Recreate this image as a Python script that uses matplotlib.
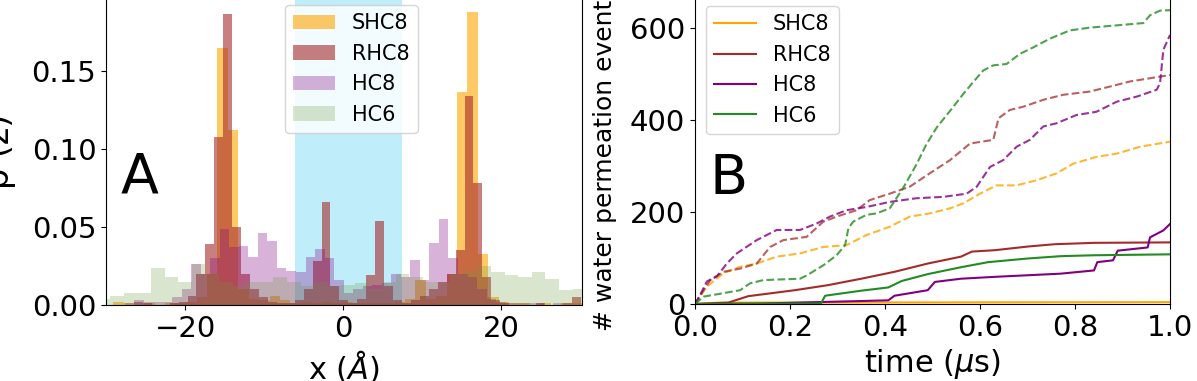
import numpy as np
import matplotlib.pyplot as plt

# ---- panel A: position histograms, p(z) per bin ----
shc8_bins = np.linspace(-29.07, 30.2, 46)
shc8_p = [0.002, 0.001, 0.000, 0.001, 0.000, 0.001, 0.001, 0.002, 0.005, 0.020,
          0.165, 0.112, 0.010, 0.004, 0.003, 0.006, 0.003, 0.001, 0.002, 0.001,
          0.002, 0.001, 0.002, 0.001, 0.001, 0.001, 0.001, 0.002, 0.004, 0.016,
          0.004, 0.006, 0.020, 0.137, 0.188, 0.033, 0.005, 0.002, 0.001, 0.001,
          0.000, 0.001, 0.000, 0.001, 0.001]

rhc8_bins = np.linspace(-29.86, 30.03, 54)
rhc8_p = [0.000, 0.000, 0.000, 0.002, 0.001, 0.000, 0.000, 0.001, 0.002, 0.006,
          0.020, 0.039, 0.108, 0.187, 0.050, 0.020, 0.010, 0.005, 0.002, 0.001,
          0.001, 0.003, 0.010, 0.028, 0.066, 0.012, 0.003, 0.001, 0.004, 0.019,
          0.054, 0.012, 0.003, 0.001, 0.003, 0.006, 0.010, 0.015, 0.020, 0.035,
          0.134, 0.078, 0.018, 0.003, 0.001, 0.000, 0.000, 0.000, 0.001, 0.000,
          0.000, 0.001, 0.005]

hc8_bins = np.linspace(-30.07, 30.18, 51)
hc8_p = [0.000, 0.000, 0.001, 0.003, 0.002, 0.002, 0.002, 0.005, 0.010, 0.026,
         0.020, 0.030, 0.049, 0.037, 0.038, 0.031, 0.046, 0.041, 0.024, 0.022,
         0.021, 0.031, 0.036, 0.030, 0.016, 0.008, 0.010, 0.012, 0.013, 0.014,
         0.020, 0.018, 0.029, 0.016, 0.040, 0.055, 0.030, 0.020, 0.018, 0.010,
         0.004, 0.002, 0.001, 0.001, 0.001, 0.001, 0.000, 0.001, 0.000, 0.000]

hc6_bins = np.linspace(-31.18, 30.74, 37)
hc6_p = [0.004, 0.006, 0.008, 0.008, 0.024, 0.018, 0.015, 0.026, 0.020, 0.015,
         0.012, 0.015, 0.015, 0.018, 0.015, 0.012, 0.015, 0.012, 0.013, 0.014,
         0.010, 0.015, 0.020, 0.018, 0.015, 0.015, 0.020, 0.022, 0.025, 0.021,
         0.019, 0.018, 0.021, 0.017, 0.0096, 0.010]

# ---- panel B: cumulative water permeation events ----
t_shc8_d = [0, 0.025, 0.06, 0.095, 0.13, 0.172, 0.221, 0.27, 0.319, 0.361, 0.41, 0.452,
            0.494, 0.537, 0.565, 0.6, 0.635, 0.677, 0.719, 0.761, 0.796, 0.845, 0.888, 0.937, 1.0]
n_shc8_d = [0, 38, 67, 81, 88, 103, 110, 124, 128, 150, 168, 190,
            197, 208, 219, 240, 258, 258, 269, 284, 305, 320, 327, 342, 353]

t_rhc8_d = [0, 0.018, 0.032, 0.06, 0.095, 0.13, 0.158, 0.186, 0.235, 0.27, 0.298, 0.34, 0.368,
            0.41, 0.452, 0.494, 0.537, 0.579, 0.628, 0.639, 0.663, 0.691, 0.733, 0.775, 0.831,
            0.874, 0.916, 0.958, 1.0]
n_rhc8_d = [0, 30, 52, 70, 77, 88, 124, 139, 146, 179, 190, 204, 226,
            240, 255, 284, 313, 349, 357, 404, 422, 429, 444, 455, 462,
            473, 484, 491, 498]

t_hc8_d = [0, 0.011, 0.025, 0.046, 0.067, 0.088, 0.13, 0.172, 0.221, 0.256, 0.284, 0.319, 0.361,
           0.41, 0.466, 0.523, 0.572, 0.593, 0.621, 0.649, 0.677, 0.705, 0.733, 0.761, 0.803,
           0.845, 0.888, 0.93, 0.972, 0.979, 0.986, 1.0]
n_hc8_d = [0, 20, 49, 60, 88, 110, 139, 161, 161, 175, 190, 204, 211,
           222, 230, 233, 240, 255, 298, 313, 342, 357, 386, 393, 411,
           418, 440, 451, 466, 480, 553, 585]

t_hc6_d = [0, 0.018, 0.095, 0.116, 0.144, 0.221, 0.235, 0.27, 0.298, 0.316, 0.323, 0.333,
           0.361, 0.382, 0.41, 0.438, 0.466, 0.487, 0.509, 0.537, 0.565, 0.586, 0.607, 0.628,
           0.656, 0.684, 0.712, 0.747, 0.789, 0.831, 0.888, 0.944, 0.958, 0.979, 1.0]
n_hc6_d = [0, 16, 30, 45, 52, 55, 62, 84, 106, 128, 165, 179,
           194, 197, 208, 252, 303, 347, 384, 420, 457, 483, 508, 519,
           522, 544, 558, 577, 595, 601, 606, 611, 628, 638, 639]

t_shc8 = [0, 0.05, 1.0]
n_shc8 = [0, 3, 4]

t_rhc8 = [0, 0.07, 0.091, 0.112, 0.21, 0.28, 0.35, 0.42, 0.49, 0.56, 0.583, 0.631, 0.701, 0.757, 0.84, 1.0]
n_rhc8 = [0, 3, 10, 17, 30, 41, 55, 70, 88, 103, 114, 117, 125, 130, 133, 134]

t_hc8 = [0, 0.14, 0.407, 0.42, 0.49, 0.505, 0.56, 0.63, 0.77, 0.84, 0.847, 0.88, 0.89, 0.953,
         0.958, 0.986, 1.0]
n_hc8 = [0, 1, 8, 18, 30, 48, 55, 59, 66, 73, 91, 95, 116, 123, 145, 160, 174]

t_hc6 = [0, 0.265, 0.274, 0.35, 0.407, 0.435, 0.49, 0.56, 0.617, 0.701, 0.77, 0.84, 1.0]
n_hc6 = [0, 1, 18, 29, 36, 50, 65, 80, 91, 99, 104, 106, 108]

plt.rcParams['font.size'] = 21

fig = plt.figure(figsize=(11.97, 3.81), dpi=100)
ax1 = fig.add_axes([106 / 1197, 76 / 381, 476 / 1197, 307 / 381])
ax2 = fig.add_axes([695 / 1197, 77 / 381, 475 / 1197, 309 / 381])

# panel A
ax1.axvspan(-6.1, 7.4, color='#bfeefa', lw=0, zorder=0)
ax1.hist(shc8_bins[:-1], bins=shc8_bins, weights=shc8_p, color='orange', alpha=0.6, label='SHC8')
ax1.hist(rhc8_bins[:-1], bins=rhc8_bins, weights=rhc8_p, color='brown', alpha=0.6, label='RHC8')
ax1.hist(hc8_bins[:-1], bins=hc8_bins, weights=hc8_p, color='purple', alpha=0.3, label='HC8')
ax1.hist(hc6_bins[:-1], bins=hc6_bins, weights=hc6_p, color='#6b9a3a', alpha=0.25, label='HC6')
ax1.set_xlim(-30, 30.2)
ax1.set_ylim(0, 0.197)
ax1.set_xticks([-20, 0, 20])
ax1.set_yticks([0, 0.05, 0.10, 0.15])
ax1.set_xlabel(r'x ($\AA$)', fontsize=22)
ax1.set_ylabel('p (z)', fontsize=24)
ax1.yaxis.set_label_coords(-0.19, 0.5)
ax1.text(-28.2, 0.072, 'A', fontsize=40)
ax1.legend(fontsize=15, loc='upper left', bbox_to_anchor=(0.376, 0.977), borderaxespad=0)

# panel B
ax2.plot(t_shc8_d, n_shc8_d, '--', color='orange', alpha=0.8, lw=1.5)
ax2.plot(t_rhc8_d, n_rhc8_d, '--', color='brown', alpha=0.75, lw=1.5)
ax2.plot(t_hc8_d, n_hc8_d, '--', color='purple', alpha=0.8, lw=1.5)
ax2.plot(t_hc6_d, n_hc6_d, '--', color='forestgreen', alpha=0.8, lw=1.5)
ax2.plot(t_shc8, n_shc8, color='orange', lw=1.5, label='SHC8')
ax2.plot(t_rhc8, n_rhc8, color='brown', lw=1.5, label='RHC8')
ax2.plot(t_hc8, n_hc8, color='purple', lw=1.5, label='HC8')
ax2.plot(t_hc6, n_hc6, color='forestgreen', lw=1.5, label='HC6')
ax2.set_xlim(0, 1.0)
ax2.set_ylim(0, 672)
ax2.set_xticks([0, 0.2, 0.4, 0.6, 0.8, 1.0])
ax2.set_yticks([0, 200, 400, 600])
ax2.set_xlabel(r'time ($\mu$s)', fontsize=22)
ax2.set_ylabel('# water permeation events', fontsize=18)
ax2.yaxis.set_label_coords(-0.165, 0.47)
ax2.text(0.03, 240, 'B', fontsize=40)
ax2.legend(fontsize=15, loc='upper left', bbox_to_anchor=(0.023, 0.964), borderaxespad=0)

fig.savefig('out.png', dpi=100)
